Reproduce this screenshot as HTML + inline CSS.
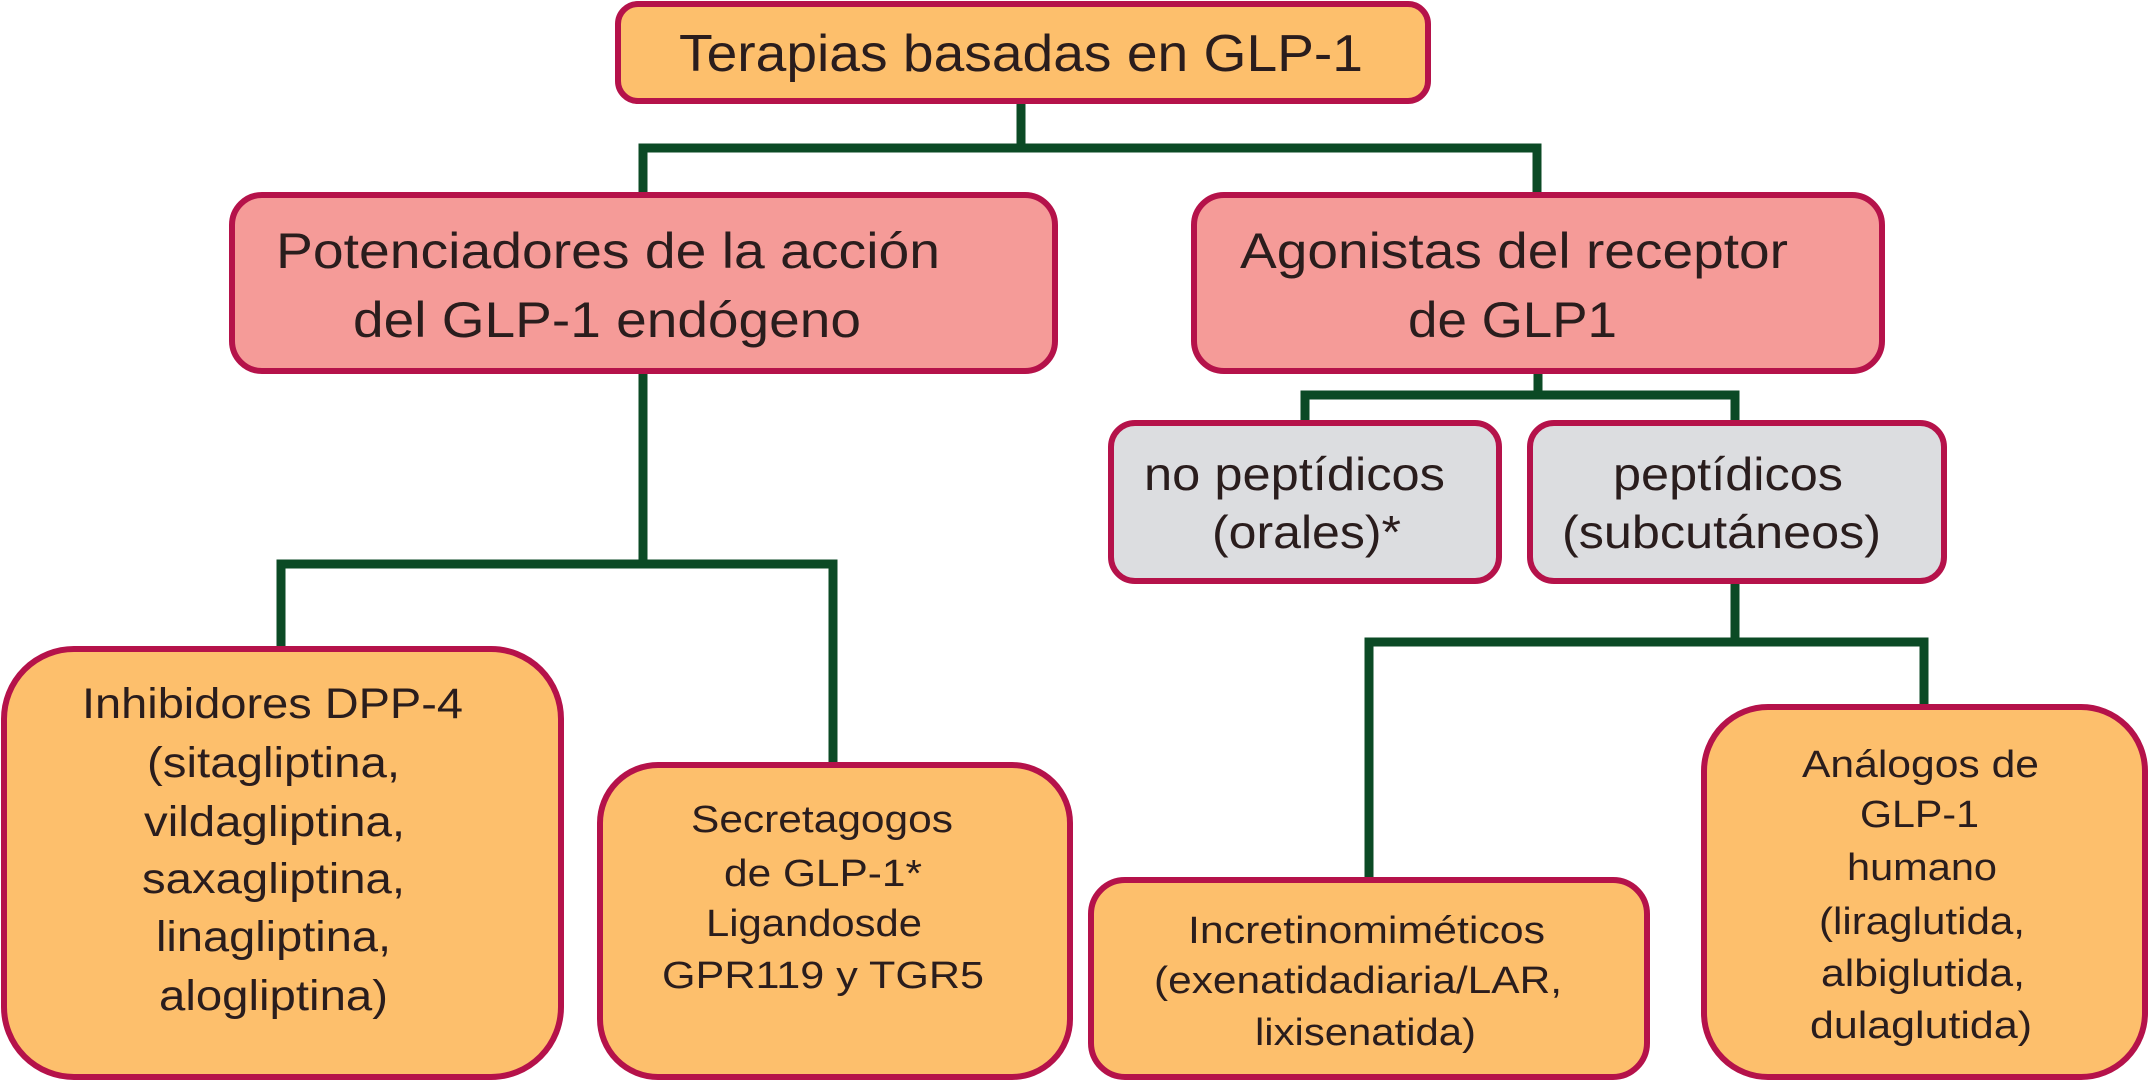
<!DOCTYPE html>
<html><head><meta charset="utf-8"><style>
html,body{margin:0;padding:0;background:#fff;}
svg{display:block;}
text{font-family:"Liberation Sans",sans-serif;fill:#2a1d1d;}
</style></head><body>
<svg width="2150" height="1082" viewBox="0 0 2150 1082" xmlns="http://www.w3.org/2000/svg">
<g stroke="#0b4a25" stroke-width="9" fill="none" stroke-linecap="square">
<path d="M1021 101 V148 M643 148 H1537 M643 148 V193 M1537 148 V193"/>
<path d="M643 372 V564 M281 564 H833 M281 564 V647 M833 564 V763"/>
<path d="M1538 372 V395 M1305 395 H1735 M1305 395 V423 M1735 395 V423"/>
<path d="M1735 581 V642 M1369 642 H1924 M1369 642 V878 M1924 642 V705"/>
</g>
<g stroke="#b5124a" stroke-width="6">
<rect x="618" y="4" width="810" height="97" rx="20" fill="#fdbf6c"/>
<rect x="232" y="195" width="823" height="176" rx="30" fill="#f59b98"/>
<rect x="1194" y="195" width="688" height="176" rx="30" fill="#f59b98"/>
<rect x="1111" y="423" width="388" height="158" rx="24" fill="#dcdde0"/>
<rect x="1530" y="423" width="414" height="158" rx="24" fill="#dcdde0"/>
<rect x="4" y="649" width="557" height="428" rx="70" fill="#fdbf6c"/>
<rect x="600" y="765" width="470" height="312" rx="58" fill="#fdbf6c"/>
<rect x="1091" y="880" width="556" height="197" rx="34" fill="#fdbf6c"/>
<rect x="1704" y="707" width="441" height="370" rx="64" fill="#fdbf6c"/>
</g>
<g lengthAdjust="spacingAndGlyphs">
<text x="679" y="71" font-size="52" textLength="684" lengthAdjust="spacingAndGlyphs">Terapias basadas en GLP-1</text>
<text x="276" y="268" font-size="50" textLength="664" lengthAdjust="spacingAndGlyphs">Potenciadores de la acción</text>
<text x="353" y="337" font-size="50" textLength="508" lengthAdjust="spacingAndGlyphs">del GLP-1 endógeno</text>
<text x="1240" y="268" font-size="50" textLength="548" lengthAdjust="spacingAndGlyphs">Agonistas del receptor</text>
<text x="1408" y="337" font-size="50" textLength="209" lengthAdjust="spacingAndGlyphs">de GLP1</text>
<text x="1144" y="490" font-size="46" textLength="301" lengthAdjust="spacingAndGlyphs">no peptídicos</text>
<text x="1212" y="548" font-size="46" textLength="189" lengthAdjust="spacingAndGlyphs">(orales)*</text>
<text x="1613" y="490" font-size="46" textLength="230" lengthAdjust="spacingAndGlyphs">peptídicos</text>
<text x="1562" y="548" font-size="46" textLength="319" lengthAdjust="spacingAndGlyphs">(subcutáneos)</text>
<text x="82" y="718" font-size="43" textLength="381" lengthAdjust="spacingAndGlyphs">Inhibidores DPP-4</text>
<text x="147" y="777" font-size="43" textLength="253" lengthAdjust="spacingAndGlyphs">(sitagliptina,</text>
<text x="144" y="836" font-size="43" textLength="261" lengthAdjust="spacingAndGlyphs">vildagliptina,</text>
<text x="142" y="893" font-size="43" textLength="263" lengthAdjust="spacingAndGlyphs">saxagliptina,</text>
<text x="156" y="951" font-size="43" textLength="235" lengthAdjust="spacingAndGlyphs">linagliptina,</text>
<text x="159" y="1010" font-size="43" textLength="229" lengthAdjust="spacingAndGlyphs">alogliptina)</text>
<text x="691" y="832" font-size="38" textLength="262" lengthAdjust="spacingAndGlyphs">Secretagogos</text>
<text x="724" y="886" font-size="38" textLength="198" lengthAdjust="spacingAndGlyphs">de GLP-1*</text>
<text x="706" y="936" font-size="38" textLength="216" lengthAdjust="spacingAndGlyphs">Ligandosde</text>
<text x="662" y="988" font-size="38" textLength="322" lengthAdjust="spacingAndGlyphs">GPR119 y TGR5</text>
<text x="1188" y="943" font-size="38" textLength="357" lengthAdjust="spacingAndGlyphs">Incretinomiméticos</text>
<text x="1154" y="993" font-size="38" textLength="408" lengthAdjust="spacingAndGlyphs">(exenatidadiaria/LAR,</text>
<text x="1255" y="1045" font-size="38" textLength="221" lengthAdjust="spacingAndGlyphs">lixisenatida)</text>
<text x="1802" y="777" font-size="38" textLength="237" lengthAdjust="spacingAndGlyphs">Análogos de</text>
<text x="1860" y="827" font-size="38" textLength="119" lengthAdjust="spacingAndGlyphs">GLP-1</text>
<text x="1847" y="880" font-size="38" textLength="150" lengthAdjust="spacingAndGlyphs">humano</text>
<text x="1819" y="934" font-size="38" textLength="206" lengthAdjust="spacingAndGlyphs">(liraglutida,</text>
<text x="1821" y="986" font-size="38" textLength="204" lengthAdjust="spacingAndGlyphs">albiglutida,</text>
<text x="1810" y="1038" font-size="38" textLength="222" lengthAdjust="spacingAndGlyphs">dulaglutida)</text>
</g>
</svg>
</body></html>
